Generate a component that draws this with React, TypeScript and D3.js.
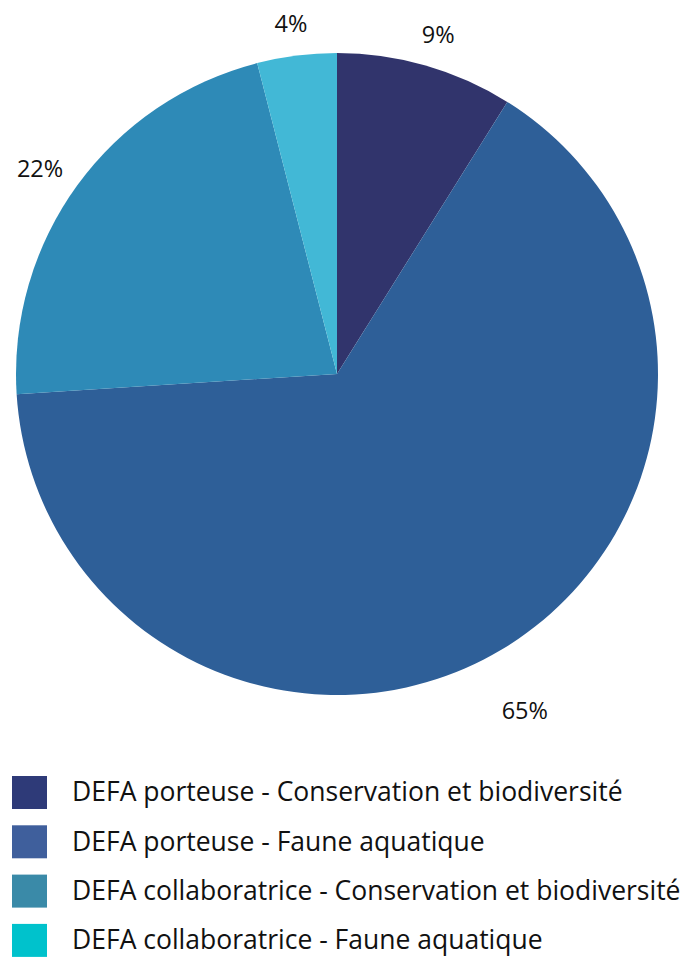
import * as d3 from 'd3';
import React, { useRef, useEffect } from 'react';

const categories = [
    'DEFA porteuse - Conservation et biodiversité',
    'DEFA porteuse - Faune aquatique',
    'DEFA collaboratrice - Conservation et biodiversité',
    'DEFA collaboratrice - Faune aquatique',
];
const shares = [8.9, 65.1, 22.0, 4.0];
const labels = ['9%', '65%', '22%', '4%'];
const sliceColors = ['#31346c', '#2e5f98', '#2e8ab7', '#42b8d6'];
const legendColors = ['#2e3a78', '#3f5f9c', '#3a8aa8', '#00c2cc'];

export default function App() {
    const ref = useRef<SVGSVGElement | null>(null);

    useEffect(() => {
        const width = 690;
        const height = 957;
        const cx = 337;
        const cy = 374;
        const radius = 321;

        const svg = d3
            .select(ref.current)
            .attr('width', width)
            .attr('height', height)
            .style('font-family', '"Open Sans", "Noto Sans", sans-serif');

        svg.selectAll('*').remove();

        const data = categories.map((c, i) => ({ name: c, value: shares[i], label: labels[i], i }));

        const pie = d3
            .pie<typeof data[number]>()
            .value((d) => d.value)
            .sort(null);
        const arcs = pie(data);

        const arc = d3.arc<d3.PieArcDatum<typeof data[number]>>().innerRadius(0).outerRadius(radius);

        const chart = svg.append('g').attr('transform', `translate(${cx}, ${cy})`);

        chart
            .selectAll('path')
            .data(arcs)
            .join('path')
            .attr('d', arc)
            .attr('fill', (d) => sliceColors[d.data.i]);

        // Percentage labels outside the pie: point on the rim + offset for the text box
        const labelPos = (d: d3.PieArcDatum<typeof data[number]>) => {
            const a = (d.startAngle + d.endAngle) / 2;
            const s = Math.sin(a);
            const c = Math.cos(a);
            const r = radius + 18;
            const dy = c > 0 ? -20 * c : -46 * c;
            return [r * s + 28 * s, -r * c + dy + 6];
        };

        chart
            .selectAll('text')
            .data(arcs)
            .join('text')
            .attr('transform', (d) => {
                const [x, y] = labelPos(d);
                return `translate(${x}, ${y})`;
            })
            .attr('text-anchor', 'middle')
            .attr('dy', '0.35em')
            .style('font-size', '23.5px')
            .attr('fill', '#111')
            .text((d) => d.data.label);

        // Legend
        const legend = svg.append('g').attr('transform', 'translate(12, 776)');
        data.forEach((d, i) => {
            const g = legend.append('g').attr('transform', `translate(0, ${i * 49.3})`);
            g.append('rect')
                .attr('width', 35)
                .attr('height', 33)
                .attr('fill', legendColors[i]);
            g.append('text')
                .attr('x', 60)
                .attr('y', 16)
                .attr('dy', '0.35em')
                .style('font-size', '26.5px')
                .attr('fill', '#111')
                .text(d.name);
        });
    }, []);

    return <svg ref={ref} style={{ position: 'absolute', top: 0, left: 0, display: 'block' }}></svg>;
}
